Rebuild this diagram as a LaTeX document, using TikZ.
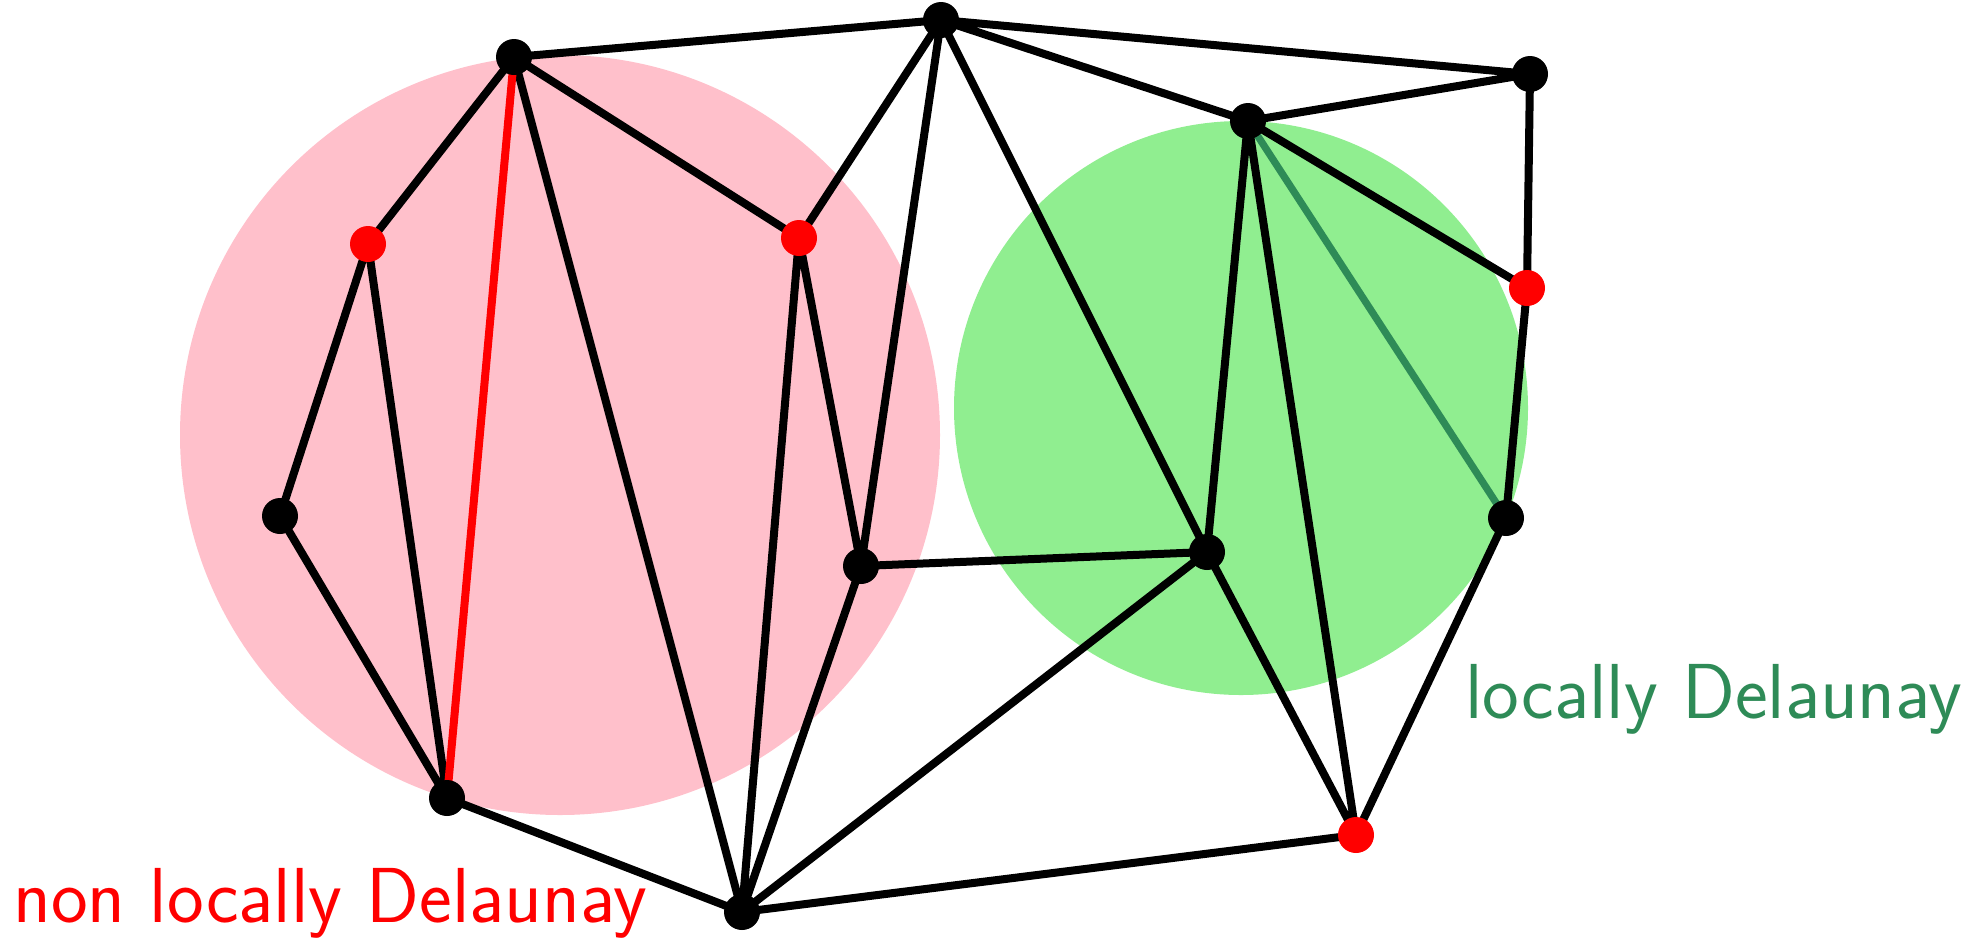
\documentclass[tikz,border=0pt]{standalone}
\usepackage{fontspec}
\definecolor{pinkfill}{RGB}{255,192,203}
\definecolor{greenfill}{RGB}{144,238,144}
\definecolor{seagreen}{RGB}{46,139,87}
\begin{document}
\begin{tikzpicture}[x=0.5pt,y=-0.5pt,
  edge/.style={line width=4pt,black},
  vtx/.style={circle,fill=black,inner sep=0pt,minimum size=18pt},
  rvtx/.style={circle,fill=red,inner sep=0pt,minimum size=18pt},
  lbl/.style={font=\sffamily\fontsize{39}{43}\selectfont,anchor=base west,inner sep=0pt}]
\useasboundingbox (0,0) rectangle (1982,939);
\fill[pinkfill] (560,435) circle[radius=380];
\fill[greenfill] (1241,408) circle[radius=287];
\coordinate (A) at (514,57);
\coordinate (B) at (941,20);
\coordinate (C) at (1530,74);
\coordinate (D) at (1248,121);
\coordinate (E) at (368,244);
\coordinate (F) at (799,238);
\coordinate (G) at (1527,288);
\coordinate (H) at (280,516);
\coordinate (I) at (861,566);
\coordinate (J) at (1207,552);
\coordinate (K) at (1506,518);
\coordinate (L) at (447,798);
\coordinate (M) at (742,912);
\coordinate (N) at (1356,835);
\draw[edge] (A)--(B) (B)--(C) (B)--(D) (D)--(C) (C)--(G) (G)--(K) (K)--(N)
  (N)--(M) (M)--(L) (L)--(H) (H)--(E) (E)--(A) (A)--(F) (F)--(B) (B)--(I)
  (B)--(J) (D)--(J) (D)--(N) (D)--(G) (A)--(M) (E)--(L) (F)--(M) (F)--(I)
  (I)--(M) (I)--(J) (J)--(M) (J)--(N);
\draw[line width=4pt,red] (A)--(L);
\draw[line width=3.6pt,seagreen] (D)--(K);
\foreach \p in {A,B,C,D,H,I,J,K,L,M} \node[vtx] (v\p) at (\p) {};
\foreach \p in {E,F,G,N} \node[rvtx] (v\p) at (\p) {};
\node[lbl,text=seagreen] (t1) at (1465,718) {locally Delaunay};
\node[lbl,text=red] (t2) at (13,922) {non locally Delaunay};
\end{tikzpicture}
\end{document}
